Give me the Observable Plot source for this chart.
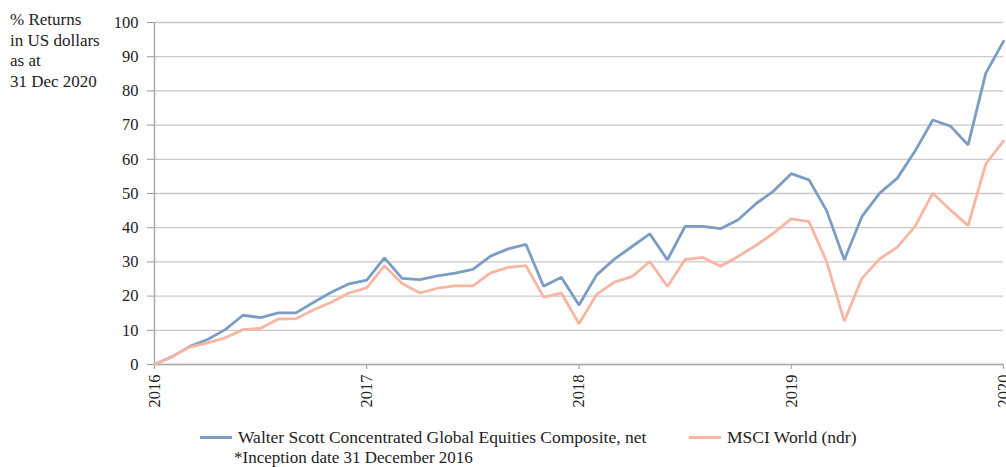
<!DOCTYPE html>
<html>
<head>
<meta charset="utf-8">
<script src="https://cdn.jsdelivr.net/npm/d3@7"></script>
<script src="https://cdn.jsdelivr.net/npm/@observablehq/plot@0.6"></script>
<style>
  html, body { margin: 0; padding: 0; background: #fff; }
  body { width: 1006px; height: 467px; overflow: hidden; font-family: "Liberation Serif", "DejaVu Serif", "Noto Serif", Georgia, serif; color: #222; }
  #wrap { position: relative; width: 1006px; height: 467px; }
  #title { position: absolute; left: 10px; top: 10px; font-size: 17px; line-height: 20.5px; z-index: 2; }
  #chart { position: absolute; left: 0; top: 0; }
  #legend { position: absolute; left: 0; top: 427px; width: 1006px; font-size: 17.5px; line-height: 20px; }
  .item { position: absolute; top: 0; display: flex; align-items: center; white-space: nowrap; }
  .sw { display: inline-block; width: 32px; height: 3px; margin-right: 6px; }
  #note { position: absolute; left: 234px; top: 450px; font-size: 17px; line-height: 16.5px; white-space: nowrap; }
</style>
</head>
<body>
<div id="wrap">
  <div id="title">% Returns<br>in US dollars<br>as at<br>31 Dec 2020</div>
  <div id="chart"></div>
  <div id="legend">
    <div class="item" style="left:200px"><span class="sw" style="background:#7b9dc4"></span>Walter Scott Concentrated Global Equities Composite, net</div>
    <div class="item" style="left:689px"><span class="sw" style="background:#f8b6a2"></span>MSCI World (ndr)</div>
  </div>
  <div id="note">*Inception date 31 December 2016</div>
</div>
<script>
const startYear = 2016;
const seriesNames = ["Walter Scott Concentrated Global Equities Composite, net", "MSCI World (ndr)"];
const seriesColors = ["#7b9dc4", "#f8b6a2"];
const walterScott = [0, 2.3, 5.3, 7.3, 10.2, 14.4, 13.7, 15.1, 15.1, 18.2, 21.1, 23.6,
  24.7, 31.2, 25.2, 24.8, 25.9, 26.7, 27.8, 31.7, 33.8, 35.1, 22.9, 25.5,
  17.4, 26.2, 30.8, 34.5, 38.2, 30.6, 40.4, 40.4, 39.7, 42.3, 47.0, 50.7,
  55.8, 54.0, 45.0, 30.6, 43.3, 50.1, 54.5, 62.4, 71.5, 69.7, 64.2, 85.2,
  94.5];
const msciWorld = [0, 2.3, 5.1, 6.3, 7.8, 10.2, 10.6, 13.3, 13.4, 16.0, 18.2, 20.9,
  22.4, 28.9, 23.7, 20.9, 22.3, 23.0, 23.0, 26.8, 28.4, 28.9, 19.7, 20.9,
  11.9, 20.5, 24.1, 25.7, 30.1, 22.8, 30.7, 31.3, 28.7, 31.6, 34.8, 38.4,
  42.6, 41.8, 30.1, 12.7, 25.2, 30.9, 34.3, 40.4, 50.1, 45.2, 40.6, 58.7,
  65.3];
const xTicks = [2016, 2017, 2018, 2019, 2020];
const yTicks = [0, 10, 20, 30, 40, 50, 60, 70, 80, 90, 100];

const rows = [];
[walterScott, msciWorld].forEach((vals, s) => {
  vals.forEach((v, i) => rows.push({t: startYear + i / 12, v, series: seriesNames[s]}));
});

const chart = Plot.plot({
  width: 1006,
  height: 420,
  marginLeft: 154,
  marginRight: 3,
  marginTop: 22,
  marginBottom: 56,
  style: {fontFamily: "'Liberation Serif', 'DejaVu Serif', 'Noto Serif', serif", fontSize: "16.5px", color: "#222", overflow: "visible"},
  x: {domain: [2016, 2020]},
  y: {domain: [0, 100]},
  color: {domain: seriesNames, range: seriesColors},
  marks: [
    Plot.gridY(yTicks, {stroke: "#c9c9c9", strokeOpacity: 1, strokeWidth: 1.3}),
    Plot.axisY(yTicks, {tickSize: 7, tickPadding: 9, stroke: "#999", label: null, tickFormat: d => String(d)}),
    Plot.axisX(xTicks, {tickSize: 5, tickPadding: 5, tickRotate: -90, stroke: "#999", label: null, tickFormat: d => String(d)}),
    Plot.ruleX([2016], {stroke: "#aaa", strokeWidth: 1.5}),
    Plot.ruleY([0], {stroke: "#aaa", strokeWidth: 1.5}),
    Plot.line(rows, {x: "t", y: "v", z: "series", stroke: "series", strokeWidth: 2.8, strokeLinejoin: "miter"})
  ]
});
document.getElementById("chart").appendChild(chart);
</script>
</body>
</html>
